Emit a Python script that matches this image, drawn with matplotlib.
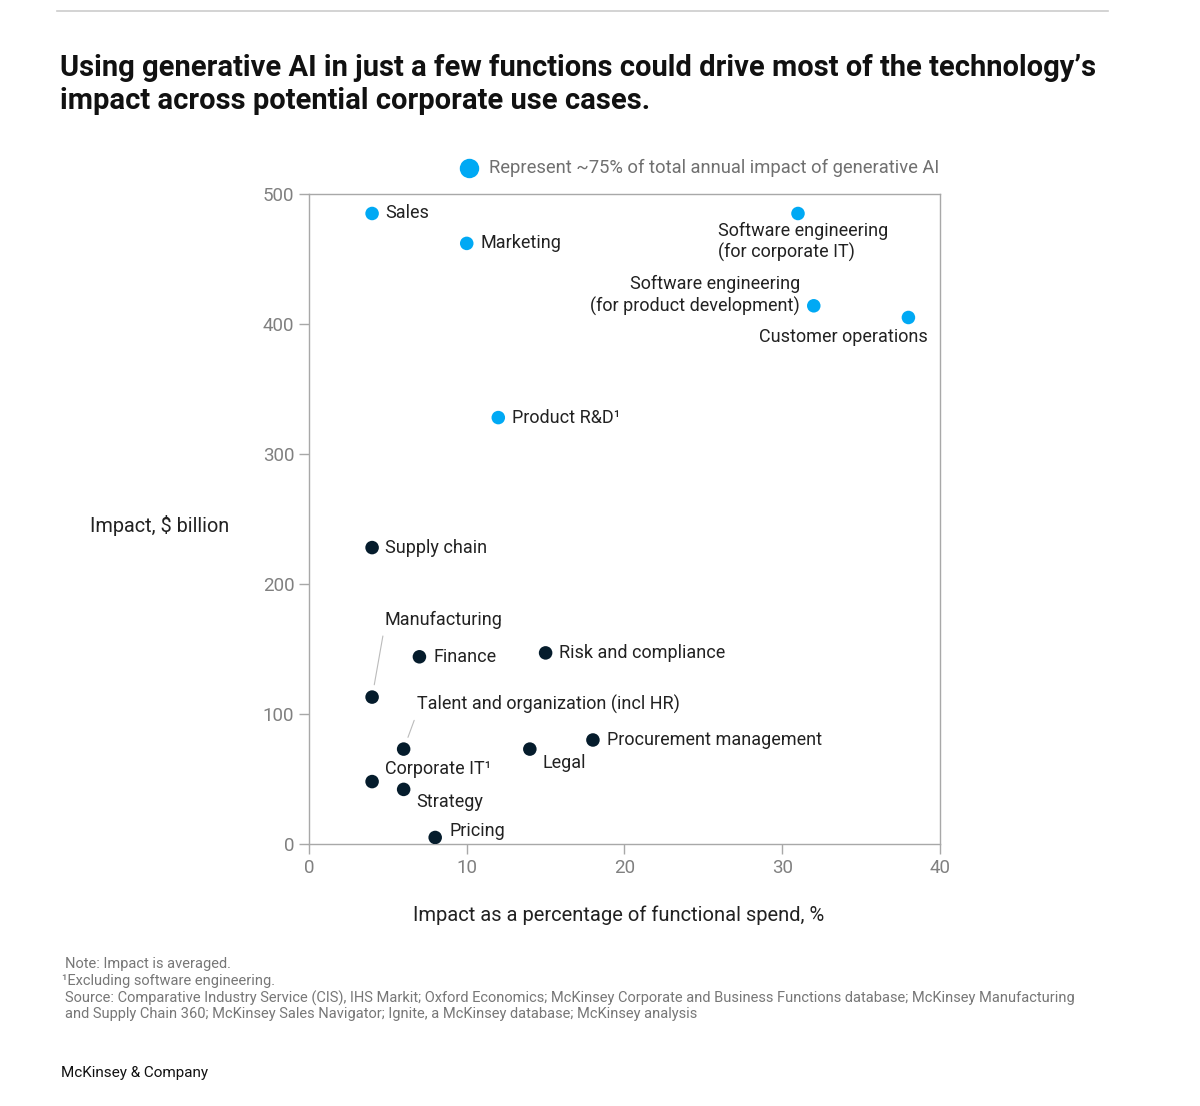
import matplotlib.pyplot as plt

plt.rcParams['font.family'] = ['Roboto', 'DejaVu Sans']

# data
names = ['Sales', 'Marketing', 'Software engineering\n(for corporate IT)',
         'Software engineering\n(for product development)', 'Customer operations',
         'Product R&D\u00b9', 'Supply chain', 'Manufacturing', 'Finance',
         'Risk and compliance', 'Talent and organization (incl HR)', 'Legal',
         'Procurement management', 'Corporate IT\u00b9', 'Strategy', 'Pricing']
spend_pct = [4, 10, 31, 32, 38, 12, 4, 4, 7, 15, 6, 14, 18, 4, 6, 8]
impact_bn = [485, 462, 485, 414, 405, 328, 228, 113, 144, 147, 73, 73, 80, 48, 42, 5]
top_group = [True, True, True, True, True, True, False, False, False, False,
             False, False, False, False, False, False]

# label offsets in pixels (dx, dy, ha, va)
label_pos = [(13, 0, 'left', 'center'), (14, 0, 'left', 'center'),
             (-80, -8, 'left', 'top'), (-14, 10, 'right', 'center'),
             (19, -20, 'right', 'center'), (14, 0, 'left', 'center'),
             (13, 0, 'left', 'center'), (12, 77, 'left', 'center'),
             (14, 0, 'left', 'center'), (13, 0, 'left', 'center'),
             (13, 45, 'left', 'center'), (13, -14, 'left', 'center'),
             (14, 0, 'left', 'center'), (13, 13, 'left', 'center'),
             (13, -13, 'left', 'center'), (14, 6, 'left', 'center')]
leader = ['Manufacturing', 'Talent and organization (incl HR)']

blue = '#00A9F4'
navy = '#051C2C'
grey = '#A8A8A8'

fig = plt.figure(figsize=(12, 11.06), dpi=100)
ax = fig.add_axes([0.2575, 0.2369, 0.5258, 0.5877])

colors = [blue if t else navy for t in top_group]
ax.scatter(spend_pct, impact_bn, s=95, c=colors, zorder=3, linewidths=0)

for name, x, y, (dx, dy, ha, va) in zip(names, spend_pct, impact_bn, label_pos):
    ma = 'right' if ha == 'right' else 'left'
    if name in leader:
        ax.annotate(name, (x, y), xytext=(dx, dy), textcoords='offset pixels',
                    ha=ha, va=va, fontsize=13, color='#222222',
                    arrowprops=dict(arrowstyle='-', color='#BBBBBB', lw=0.8,
                                    relpos=(0, 0), shrinkA=3, shrinkB=9))
    else:
        ax.annotate(name, (x, y), xytext=(dx, dy), textcoords='offset pixels',
                    ha=ha, va=va, fontsize=13, color='#222222', multialignment=ma,
                    linespacing=1.25)

ax.set_xlim(0, 40)
ax.set_ylim(0, 500)
ax.set_xticks([0, 10, 20, 30, 40])
ax.set_yticks([0, 100, 200, 300, 400, 500])
for s in ax.spines.values():
    s.set_color(grey)
    s.set_linewidth(1.0)
ax.tick_params(colors=grey, labelcolor='#808080', labelsize=13.5, length=7, width=1)
ax.tick_params(axis='x', pad=4)

ax.set_xlabel('Impact as a percentage of functional spend, %', fontsize=14.5,
              color='#222222')
ax.xaxis.set_label_coords(0.4913, -0.094)
fig.text(90 / 1200, 1 - 526 / 1106, 'Impact, $ billion', fontsize=14.3,
         color='#222222', va='center', ha='left')

# legend
fig.add_artist(plt.Line2D([469 / 1200], [1 - 168 / 1106], marker='o', ms=14,
                          color=blue, mew=0, ls='none'))
fig.text(489 / 1200, 1 - 168 / 1106,
         'Represent ~75% of total annual impact of generative AI',
         fontsize=13.2, color='#707070', va='center', ha='left')

# title and rule
fig.add_artist(plt.Line2D([57 / 1200, 1108 / 1200], [1 - 11 / 1106] * 2,
                          color='#CCCCCC', lw=1.2))
fig.text(60 / 1200, 1 - 54 / 1106,
         'Using generative AI in just a few functions could drive most of the technology\u2019s\n'
         'impact across potential corporate use cases.',
         fontsize=21, fontweight='bold', color='#111111', va='top', ha='left',
         linespacing=1.22)

# footnotes
fig.text(65 / 1200, 1 - 964 / 1106, 'Note: Impact is averaged.', fontsize=10.5,
         color='#777777', va='center')
fig.text(62 / 1200, 1 - 981 / 1106, '\u00b9Excluding software engineering.',
         fontsize=10.5, color='#777777', va='center')
fig.text(65 / 1200, 1 - 1006 / 1106,
         'Source: Comparative Industry Service (CIS), IHS Markit; Oxford Economics; '
         'McKinsey Corporate and Business Functions database; McKinsey Manufacturing\n'
         'and Supply Chain 360; McKinsey Sales Navigator; Ignite, a McKinsey database; '
         'McKinsey analysis',
         fontsize=10.5, color='#777777', va='center', linespacing=1.15)
fig.text(61 / 1200, 1 - 1073 / 1106, 'McKinsey & Company', fontsize=11,
         color='#111111', va='center')

fig.savefig('out.png', dpi=100)
